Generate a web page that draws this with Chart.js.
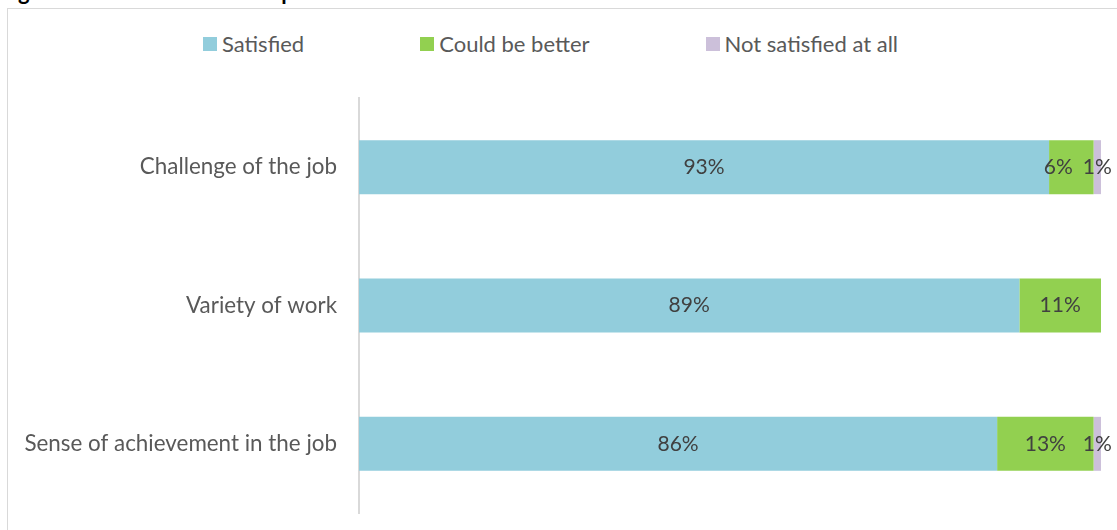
<!DOCTYPE html>
<html>
<head>
<meta charset="utf-8">
<script src="https://cdn.jsdelivr.net/npm/chart.js@4/dist/chart.umd.min.js"></script>
<style>
  body { margin: 0; background: #fff; overflow: hidden; font-family: Lato, sans-serif; }
  #title { position: absolute; left: 0; top: -19px; font-size: 22px; line-height: 22px; font-weight: bold; color: #000; white-space: nowrap; }
  #frame { position: absolute; left: 7px; top: 8px; width: 1140px; height: 540px; border: 1px solid #d9d9d9; }
  #legend { position: absolute; left: 195px; top: 21px; display: flex; gap: 116px; font-size: 22px; color: #595959; }
  #legend span.item { display: flex; align-items: center; }
  #legend span.box { width: 14px; height: 14px; margin-right: 5px; display: inline-block; }
  canvas { position: absolute; left: 0; top: 0; }
</style>
</head>
<body>
<div id="title">Figure 3: Satisfaction with aspects of their work</div>
<div id="frame">
  <div id="legend"></div>
  <canvas id="grafico" width="1109" height="521"></canvas>
</div>
<script>
// categorias e séries (percentuais)
const categorias = ['Challenge of the job', 'Variety of work', 'Sense of achievement in the job'];
const series = ['Satisfied', 'Could be better', 'Not satisfied at all'];
const satisfeito = [93, 89, 86];
const podiaMelhorar = [6, 11, 13];
const naoSatisfeito = [1, 0, 1];
const cores = ['#92cddc', '#92d050', '#ccc0da'];

const fonte = 'Lato, sans-serif';

// legenda em HTML
const legenda = document.getElementById('legend');
series.forEach((nome, i) => {
    const item = document.createElement('span');
    item.className = 'item';
    item.innerHTML = '<span class="box" style="background:' + cores[i] + '"></span>' + nome;
    legenda.appendChild(item);
});

// escreve o valor no meio de cada barra; se encostar no rótulo da direita, empurra para a esquerda
const rotulos = {
    id: 'rotulos',
    afterDatasetsDraw(chart) {
        const ctx = chart.ctx;
        ctx.save();
        ctx.font = '21px ' + fonte;
        ctx.fillStyle = '#404040';
        ctx.textAlign = 'center';
        ctx.textBaseline = 'middle';
        const n = chart.data.datasets.length;
        chart.data.labels.forEach((cat, i) => {
            let limite = Infinity;
            for (let d = n - 1; d >= 0; d--) {
                const v = chart.data.datasets[d].data[i];
                if (!v) continue;
                const bar = chart.getDatasetMeta(d).data[i];
                const texto = v + '%';
                const w = ctx.measureText(texto).width;
                let cx = (bar.x + bar.base) / 2;
                if (cx + w / 2 > limite - 10) cx = limite - 10 - w / 2;
                ctx.fillText(texto, cx, bar.y);
                limite = cx - w / 2;
            }
        });
        ctx.restore();
    }
};

const ctx = document.getElementById('grafico').getContext('2d');
new Chart(ctx, {
    type: 'bar',
    data: {
        labels: categorias,
        datasets: [
            { label: series[0], data: satisfeito, backgroundColor: cores[0] },
            { label: series[1], data: podiaMelhorar, backgroundColor: cores[1] },
            { label: series[2], data: naoSatisfeito, backgroundColor: cores[2] }
        ]
    },
    options: {
        indexAxis: 'y',
        responsive: false,
        animation: false,
        layout: { padding: { left: 0, right: 16, top: 89, bottom: 17 } },
        datasets: { bar: { categoryPercentage: 1, barPercentage: 0.39 } },
        plugins: { legend: { display: false }, tooltip: { enabled: false } },
        scales: {
            x: { stacked: true, min: 0, max: 100, display: false },
            y: {
                stacked: true,
                grid: { display: false, drawTicks: false },
                border: { display: true, color: '#d9d9d9', width: 2 },
                ticks: { color: '#595959', font: { family: fonte, size: 22.4 }, padding: 22 },
                afterFit(scale) {
                    scale.width = 351;
                    scale.paddingTop = 0;
                    scale.paddingBottom = 0;
                }
            }
        }
    },
    plugins: [rotulos]
});
</script>
</body>
</html>
